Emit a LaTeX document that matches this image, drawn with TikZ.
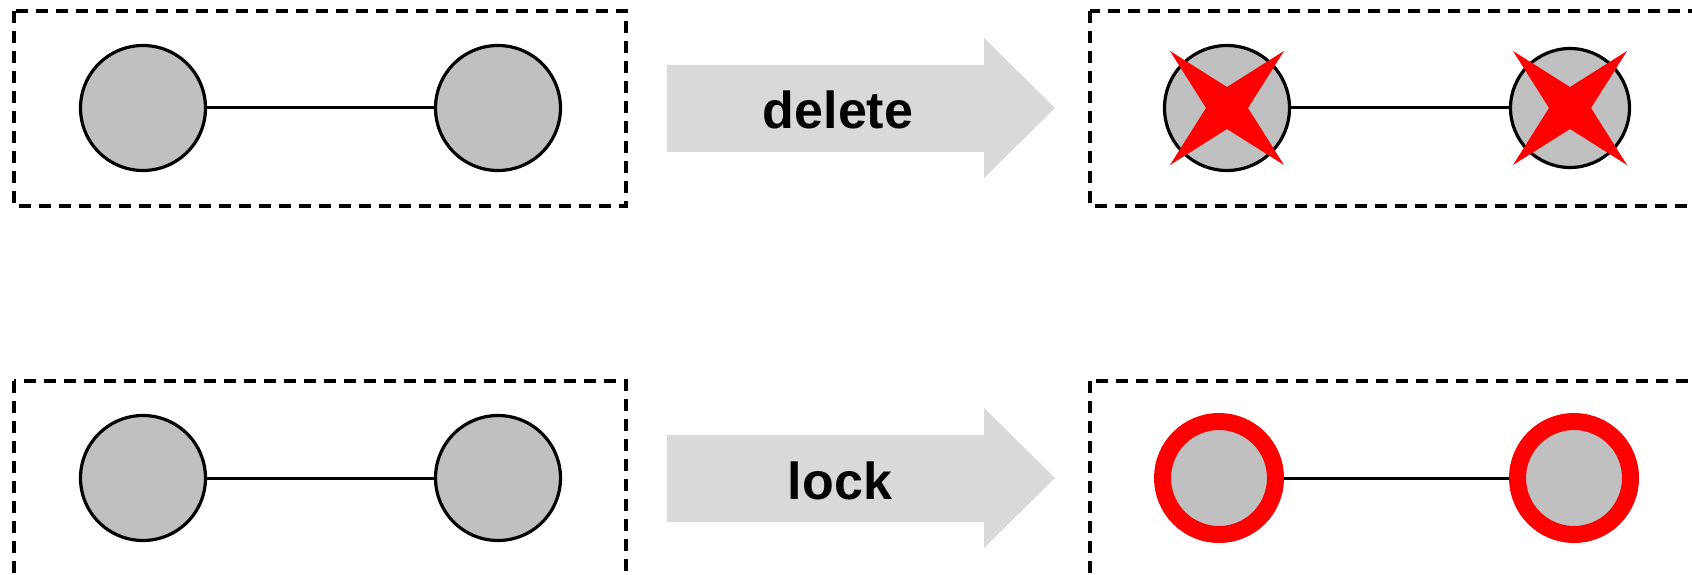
\documentclass[tikz,border=0pt]{standalone}
\usepackage{fontspec}
\setmainfont{Liberation Sans}
\definecolor{nodegray}{HTML}{C0C0C0}
\definecolor{arrowgray}{HTML}{D9D9D9}
\tikzset{
  vertex/.style={circle, draw=black, line width=3.2pt, fill=nodegray,
    minimum size=125pt, inner sep=0pt, outer sep=1.6pt},
  locked/.style={circle, draw=red, line width=17pt, fill=nodegray,
    minimum size=113pt, inner sep=0pt, outer sep=8.5pt},
  link/.style={draw=black, line width=3pt},
  panel/.style={draw=black, line width=3.3pt, dash pattern=on 12pt off 8pt},
  opbody/.style={fill=arrowgray, draw=none},
  oplabel/.style={font=\bfseries\fontsize{52}{60}\selectfont, anchor=base,
    inner sep=0pt},
  crossmark/.pic={
    \fill[red] (-57,-57) -- (0,-21) -- (57,-57) -- (21,0) -- (57,57)
      -- (0,21) -- (-57,57) -- (-21,0) -- cycle;
  }
}
\begin{document}
\begin{tikzpicture}[x=1pt,y=-1pt]
\useasboundingbox (0,0) rectangle (1692,575);
\clip (0,0) rectangle (1692,575);

% dashed panels
\draw[panel] (14,11) rectangle (626,206);
\draw[panel] (1090,11) rectangle (1730,206);
\draw[panel] (14,381) rectangle (626,610);
\draw[panel] (1090,381) rectangle (1730,610);

% operation arrows
\fill[opbody] (667,65) -- (984,65) -- (984,38) -- (1055,108) -- (984,178)
  -- (984,152) -- (667,152) -- cycle;
\node[oplabel] (del) at (838,129) {delete};
\fill[opbody] (667,435) -- (984,435) -- (984,408) -- (1055,478) -- (984,548)
  -- (984,522) -- (667,522) -- cycle;
\node[oplabel] (lck) at (840,499) {lock};

% top left: original pair
\node[vertex] (a1) at (143,108) {};
\node[vertex] (a2) at (498,108) {};
\draw[link] (a1) -- (a2);

% top right: deleted pair
\node[vertex] (b1) at (1227,108) {};
\node[vertex, minimum size=119pt] (b2) at (1570,108) {};
\draw[link] (b1) -- (b2);
\pic at (b1) {crossmark};
\pic at (b2) {crossmark};

% bottom left: original pair
\node[vertex] (c1) at (143,478) {};
\node[vertex] (c2) at (498,478) {};
\draw[link] (c1) -- (c2);

% bottom right: locked pair
\node[locked] (d1) at (1219,478) {};
\node[locked] (d2) at (1574,478) {};
\draw[link] (d1) -- (d2);
\end{tikzpicture}
\end{document}
